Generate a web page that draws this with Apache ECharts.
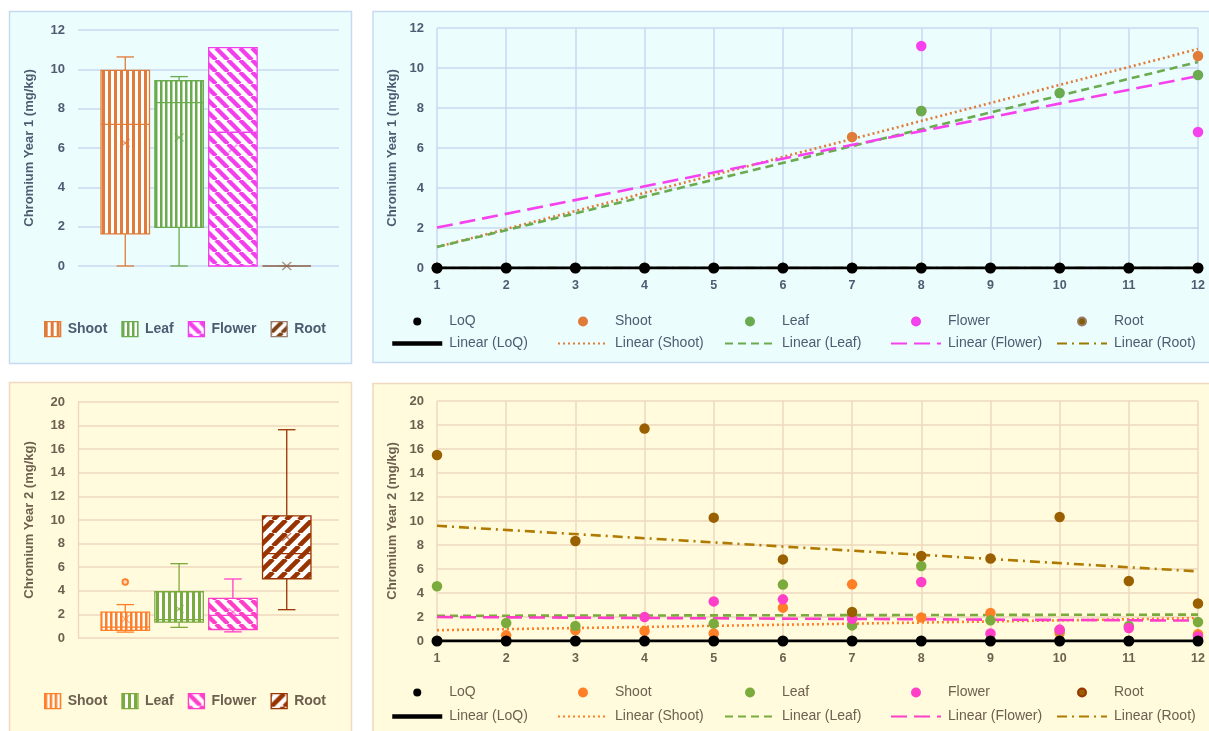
<!DOCTYPE html>
<html>
<head>
<meta charset="utf-8">
<script src="https://cdn.jsdelivr.net/npm/echarts@6/dist/echarts.min.js"></script>
<style>
  html, body { margin: 0; padding: 0; background: #ffffff; }
  #chart { width: 1209px; height: 731px; }
</style>
</head>
<body>
<div id="chart"></div>
<script>
// ---------------- data ----------------
const rounds = [1, 2, 3, 4, 5, 6, 7, 8, 9, 10, 11, 12];
const organs = ['Shoot', 'Leaf', 'Flower', 'Root'];
const yTicksY1 = [0, 2, 4, 6, 8, 10, 12];
const yTicksY2 = [0, 2, 4, 6, 8, 10, 12, 14, 16, 18, 20];

// Year 1 readings per round (mg/kg), null = no reading
const y1LoQ    = [0, 0, 0, 0, 0, 0, 0, 0, 0, 0, 0, 0];
const y1Shoot  = [0, null, null, null, null, null, 6.55, 7.85, null, null, null, 10.6];
const y1Leaf   = [0, null, null, null, null, null, null, 7.85, null, 8.75, null, 9.65];
const y1Flower = [0, null, null, null, null, null, null, 11.1, null, null, null, 6.8];
const y1Root   = [0, 0, 0, 0, 0, 0, 0, 0, 0, 0, 0, 0];

// Year 1 linear trends: value at first and last round
const y1TrendLoQ    = [0, 0];
const y1TrendShoot  = [1.05, 10.95];
const y1TrendLeaf   = [1.05, 10.3];
const y1TrendFlower = [2.02, 9.6];
const y1TrendRoot   = [0, 0];

// Year 1 box statistics: [min, Q1, median, Q3, max, mean]
const y1BoxShoot  = [0, 1.63, 7.2, 9.95, 10.63, 6.25];
const y1BoxLeaf   = [0, 1.96, 8.31, 9.42, 9.63, 6.53];
const y1BoxFlower = [0, 0, 6.8, 11.1, 11.1, 5.97];
const y1BoxRoot   = [0, 0, 0, 0, 0, 0];

// Year 2 readings per round (mg/kg), null = no reading
const y2LoQ    = [0, 0, 0, 0, 0, 0, 0, 0, 0, 0, 0, 0];
const y2Shoot  = [null, 0.47, 0.9, 0.83, 0.62, 2.78, 4.72, 1.95, 2.33, 0.67, null, 0.56];
const y2Leaf   = [4.56, 1.5, 1.25, null, 1.45, 4.7, 1.3, 6.25, 1.72, 0.9, 1.25, 1.58];
const y2Flower = [null, null, null, 2.0, 3.3, 3.47, 1.85, 4.92, 0.62, 0.95, 1.08, 0.38];
const y2Root   = [15.5, null, 8.33, 17.7, 10.28, 6.8, 2.42, 7.08, 6.87, 10.33, 5.0, 3.12];

// Year 2 linear trends: value at first and last round
const y2TrendLoQ    = [0, 0];
const y2TrendShoot  = [0.9, 1.9];
const y2TrendLeaf   = [2.1, 2.2];
const y2TrendFlower = [2.0, 1.7];
const y2TrendRoot   = [9.6, 5.8];

// Year 2 box statistics: [min, Q1, median, Q3, max, mean]
const y2BoxShoot  = [0.5, 0.65, 0.93, 2.2, 2.83, 1.62];
const y2BoxLeaf   = [0.9, 1.35, 1.56, 3.92, 6.3, 2.45];
const y2BoxFlower = [0.52, 0.72, 1.92, 3.35, 5.0, 2.2];
const y2BoxRoot   = [2.4, 5.02, 7.15, 10.35, 17.65, 8.55];
const y2ShootOutliers = [4.75];

// ---------------- styling helpers ----------------
const FONT = "'Liberation Sans', Arial, sans-serif";
const Y1 = { bg: '#EBFDFD', border: '#C6DAF2', grid: '#C8D8F2', text: '#4F5B71' };
const Y2 = { bg: '#FFFBDC', border: '#F0D9BF', grid: '#EED8BD', text: '#6E6050' };

// small repeating tiles used as box fills
function stripes(kind, color, period, thick) {
  const c = document.createElement('canvas');
  c.width = period; c.height = period;
  const g = c.getContext('2d');
  g.fillStyle = '#ffffff';
  g.fillRect(0, 0, period, period);
  g.fillStyle = color;
  g.strokeStyle = color;
  if (kind === 'vertical') {
    g.fillRect(0, 0, thick, period);
  } else {
    g.lineWidth = thick;
    g.beginPath();
    for (let k = -1; k <= 1; k++) {
      if (kind === 'down') { g.moveTo(k * period, 0); g.lineTo(k * period + period, period); }
      else { g.moveTo(k * period, period); g.lineTo(k * period + period, 0); }
    }
    g.stroke();
  }
  return { image: c, repeat: 'repeat' };
}

const boxStyleY1 = {
  Shoot:  { color: '#E07B39', mean: 'rgba(224,123,57,0.7)',  fill: stripes('vertical', '#E07B39', 6, 3) },
  Leaf:   { color: '#6AAB4F', mean: 'rgba(106,171,79,0.7)',  fill: stripes('vertical', '#6AAB4F', 5, 2.5) },
  Flower: { color: '#F23FEC', mean: 'rgba(242,63,236,0.6)',  fill: stripes('down', '#F23FEC', 12, 4.3) },
  Root:   { color: '#9A7A6A', mean: 'rgba(140,100,80,0.7)',  fill: stripes('up', '#7B4216', 11, 4) }
};
const boxStyleY2 = {
  Shoot:  { color: '#FF7F27', mean: 'rgba(255,127,39,0.7)',  fill: stripes('vertical', '#FF7F27', 5, 2.5) },
  Leaf:   { color: '#7BAB3C', mean: 'rgba(123,171,60,0.7)',  fill: stripes('vertical', '#7BAB3C', 6, 3) },
  Flower: { color: '#FF3FC8', mean: 'rgba(255,63,200,0.6)',  fill: stripes('down', '#FF3FC8', 12, 4.3) },
  Root:   { color: '#993300', mean: 'rgba(153,51,0,0.6)',    fill: stripes('up', '#993300', 13, 4.6) }
};

const CLUSTER = 0.825;   // share of the category band used by the four boxes
const BOX = 0.9;         // box width inside one slot
const CAP = 0.36;        // whisker cap width relative to box width
const SHIFT = -2.5;      // small horizontal offset of the box cluster

function boxRenderer(slot, st, outliers) {
  return function (params, api) {
    const band = api.size([1, 0])[0];
    const base = api.coord([0, 0]);
    const step = band * CLUSTER / organs.length;
    const cx = base[0] + SHIFT + (slot - (organs.length - 1) / 2) * step;
    const half = step * BOX / 2;
    const cap = half * CAP;
    const y = i => api.coord([0, api.value(i)])[1];
    const yMin = y(1), yQ1 = y(2), yMed = y(3), yQ3 = y(4), yMax = y(5), yMean = y(6);
    const ln = (x1, y1, x2, y2, c, w) => ({
      type: 'line', shape: { x1, y1, x2, y2 },
      style: { stroke: c || st.color, lineWidth: w || 1.3 }
    });
    const kids = [
      ln(cx, yQ3, cx, yMax), ln(cx - cap, yMax, cx + cap, yMax),
      ln(cx, yQ1, cx, yMin), ln(cx - cap, yMin, cx + cap, yMin),
      { type: 'rect', shape: { x: cx - half, y: yQ3, width: half * 2, height: Math.max(yQ1 - yQ3, 0) },
        style: { fill: st.fill, stroke: st.color, lineWidth: 1.3 } },
      ln(cx - half, yMed, cx + half, yMed),
      ln(cx - 4.5, yMean - 4, cx + 4.5, yMean + 4, st.mean, 1.3),
      ln(cx - 4.5, yMean + 4, cx + 4.5, yMean - 4, st.mean, 1.3)
    ];
    (outliers || []).forEach(v => {
      const p = api.coord([0, v]);
      kids.push({ type: 'circle', shape: { cx: cx, cy: p[1], r: 2.8 },
        style: { fill: '#FFD9B8', stroke: st.color, lineWidth: 1.8 } });
    });
    return { type: 'group', children: kids };
  };
}

function points(values) {
  return rounds.map((r, i) => values[i] == null ? null : [r, values[i]]).filter(Boolean);
}
function trend(t) {
  return [[rounds[0], t[0]], [rounds[rounds.length - 1], t[1]]];
}

// ---------------- layout ----------------
const grids = [
  { left: 78,  top: 30,  width: 261, height: 236 },   // year 1 boxes
  { left: 437, top: 28,  width: 761, height: 240 },   // year 1 rounds
  { left: 78,  top: 402, width: 261, height: 236 },   // year 2 boxes
  { left: 437, top: 401, width: 761, height: 240 }    // year 2 rounds
];

function valueY(gridIndex, ticks, pal, name, gap, axisLine) {
  return {
    gridIndex, type: 'value', min: ticks[0], max: ticks[ticks.length - 1],
    interval: ticks[1] - ticks[0],
    name, nameLocation: 'middle', nameRotate: 90, nameGap: gap,
    nameTextStyle: { color: pal.text, fontFamily: FONT, fontWeight: 'bold', fontSize: 13 },
    axisLabel: { color: pal.text, fontFamily: FONT, fontWeight: 'bold', fontSize: 13, margin: 13 },
    axisLine: { show: !!axisLine, lineStyle: { color: pal.grid, width: 1.3 } },
    axisTick: { show: false },
    splitLine: { lineStyle: { color: pal.grid, width: 1.5 } }
  };
}
function roundsX(gridIndex, pal) {
  return {
    gridIndex, type: 'value', min: rounds[0], max: rounds[rounds.length - 1], interval: 1,
    axisLabel: { color: pal.text, fontFamily: FONT, fontWeight: 'bold', fontSize: 12.5, margin: 11 },
    axisLine: { show: false }, axisTick: { show: false },
    splitLine: { lineStyle: { color: pal.grid, width: 1.5 } }
  };
}
function boxX(gridIndex) {
  return {
    gridIndex, type: 'category', data: [''],
    axisLabel: { show: false }, axisLine: { show: false }, axisTick: { show: false },
    splitLine: { show: false }
  };
}

const series = [];
const legends = [];

function addBoxPanel(prefix, gridIndex, boxes, styles, pal, legendTop, outlierMap) {
  organs.forEach((org, k) => {
    const st = styles[org];
    series.push({
      name: prefix + '|' + org, type: 'custom', xAxisIndex: gridIndex, yAxisIndex: gridIndex,
      renderItem: boxRenderer(k, st, outlierMap[org]),
      encode: { x: 0, y: [1, 2, 3, 4, 5] },
      itemStyle: { color: st.fill, borderColor: st.color, borderWidth: 1.3 },
      data: [[0].concat(boxes[k])]
    });
  });
  legends.push({
    left: 44, top: legendTop, orient: 'horizontal', padding: 0,
    itemWidth: 16, itemHeight: 15, itemGap: 14,
    formatter: n => n.split('|')[1],
    textStyle: { color: pal.text, fontFamily: FONT, fontWeight: 'bold', fontSize: 14, padding: [0, 0, 0, 2] },
    data: organs.map(org => ({
      name: prefix + '|' + org, icon: 'rect',
      itemStyle: { color: styles[org].fill, borderColor: styles[org].color, borderWidth: 1.3 }
    }))
  });
}

function addRoundPanel(prefix, gridIndex, readings, trends, look, pal, legendTop, rowGap) {
  const names = ['LoQ', 'Shoot', 'Leaf', 'Flower', 'Root'];
  // trend lines sit under the markers
  names.forEach((n, k) => {
    if (n === 'LoQ') return;
    series.push({
      name: prefix + '|Linear (' + n + ')', type: 'line', xAxisIndex: gridIndex, yAxisIndex: gridIndex,
      data: trend(trends[k]), symbol: 'none', silent: true, z: 2,
      lineStyle: { color: look[n].trend, width: 2.6, type: look[n].dash, cap: 'butt' }
    });
  });
  names.forEach((n, k) => {
    if (n === 'LoQ') return;
    series.push({
      name: prefix + '|' + n, type: 'scatter', xAxisIndex: gridIndex, yAxisIndex: gridIndex,
      data: points(readings[k]), symbolSize: 10.5, z: 3,
      itemStyle: { color: look[n].dot, opacity: 1 }
    });
  });
  series.push({
    name: prefix + '|Linear (LoQ)', type: 'line', xAxisIndex: gridIndex, yAxisIndex: gridIndex,
    data: trend(trends[0]), symbol: 'none', z: 4,
    lineStyle: { color: '#000000', width: 3, type: 'solid' }
  });
  series.push({
    name: prefix + '|LoQ', type: 'scatter', xAxisIndex: gridIndex, yAxisIndex: gridIndex,
    data: points(readings[0]), symbolSize: 11, z: 5,
    itemStyle: { color: '#000000', opacity: 1 }
  });
  const cols = [390, 557, 724, 890, 1056];
  names.forEach((n, k) => {
    legends.push({
      left: cols[k], top: legendTop, orient: 'vertical', padding: 0,
      itemWidth: 50, itemHeight: 8, itemGap: rowGap,
      formatter: s => s.split('|')[1],
      textStyle: { color: pal.text, fontFamily: FONT, fontSize: 14, padding: [0, 0, 0, 2] },
      data: [
        { name: prefix + '|' + n, icon: 'circle', itemStyle: { color: n === 'LoQ' ? '#000' : look[n].dot } },
        n === 'LoQ'
          ? { name: prefix + '|Linear (' + n + ')', itemStyle: { opacity: 0 }, lineStyle: { width: 4.5 } }
          : { name: prefix + '|Linear (' + n + ')', itemStyle: { opacity: 0 } }
      ]
    });
  });
}

const lookY1 = {
  Shoot:  { dot: '#E07B39', trend: '#E07B39', dash: [2, 3] },
  Leaf:   { dot: '#6AAB4F', trend: '#6AAB4F', dash: [8, 5] },
  Flower: { dot: '#F542EE', trend: '#F542EE', dash: [16, 7] },
  Root:   { dot: '#7F6000', trend: '#9C7A00', dash: [10, 5, 2, 5] }
};
const lookY2 = {
  Shoot:  { dot: '#FF7F27', trend: '#FF7F27', dash: [2, 3] },
  Leaf:   { dot: '#7BAB3C', trend: '#7BAB3C', dash: [8, 5] },
  Flower: { dot: '#FF3FC8', trend: '#FF3FC8', dash: [16, 7] },
  Root:   { dot: '#9A6000', trend: '#B07A00', dash: [10, 5, 2, 5] }
};

addBoxPanel('Y1', 0, [y1BoxShoot, y1BoxLeaf, y1BoxFlower, y1BoxRoot], boxStyleY1, Y1, 321, {});
addRoundPanel('Y1', 1, [y1LoQ, y1Shoot, y1Leaf, y1Flower, y1Root],
  [y1TrendLoQ, y1TrendShoot, y1TrendLeaf, y1TrendFlower, y1TrendRoot], lookY1, Y1, 314.5, 8);
addBoxPanel('Y2', 2, [y2BoxShoot, y2BoxLeaf, y2BoxFlower, y2BoxRoot], boxStyleY2, Y2, 693, { Shoot: y2ShootOutliers });
addRoundPanel('Y2', 3, [y2LoQ, y2Shoot, y2Leaf, y2Flower, y2Root],
  [y2TrendLoQ, y2TrendShoot, y2TrendLeaf, y2TrendFlower, y2TrendRoot], lookY2, Y2, 685.5, 10);

const option = {
  animation: false,
  backgroundColor: '#ffffff',
  textStyle: { fontFamily: FONT },
  graphic: [
    { type: 'rect', z: -10, silent: true, shape: { x: 9.5, y: 11.5, width: 342, height: 352 },
      style: { fill: Y1.bg, stroke: Y1.border, lineWidth: 1.5 } },
    { type: 'rect', z: -10, silent: true, shape: { x: 373, y: 11.5, width: 850, height: 351 },
      style: { fill: Y1.bg, stroke: Y1.border, lineWidth: 1.5 } },
    { type: 'rect', z: -10, silent: true, shape: { x: 9.5, y: 382.5, width: 342, height: 370 },
      style: { fill: Y2.bg, stroke: Y2.border, lineWidth: 1.5 } },
    { type: 'rect', z: -10, silent: true, shape: { x: 373, y: 383.5, width: 850, height: 370 },
      style: { fill: Y2.bg, stroke: Y2.border, lineWidth: 1.5 } }
  ],
  grid: grids,
  xAxis: [boxX(0), roundsX(1, Y1), boxX(2), roundsX(3, Y2)],
  yAxis: [
    valueY(0, yTicksY1, Y1, 'Chromium Year 1 (mg/kg)', 42, false),
    valueY(1, yTicksY1, Y1, 'Chromium Year 1 (mg/kg)', 34, false),
    valueY(2, yTicksY2, Y2, 'Chromium Year 2 (mg/kg)', 42, true),
    valueY(3, yTicksY2, Y2, 'Chromium Year 2 (mg/kg)', 34, false)
  ],
  legend: legends,
  series: series
};

const chart = echarts.init(document.getElementById('chart'));
chart.setOption(option);
</script>
</body>
</html>
